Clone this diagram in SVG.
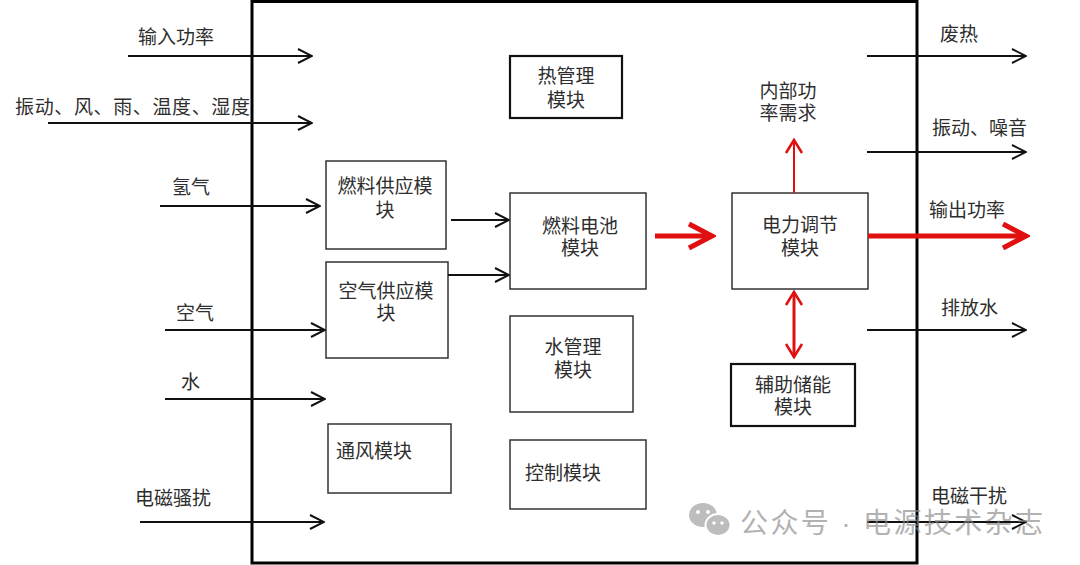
<svg xmlns="http://www.w3.org/2000/svg" width="1080" height="565" viewBox="0 0 1080 565">
<style>
text{font-family:"Liberation Sans","Noto Sans CJK SC",sans-serif;font-size:19px;fill:#2e2e2e}
.box{fill:#fff;stroke:#333;stroke-width:1.5}
.boxb{fill:#fff;stroke:#111;stroke-width:2.2}
.c{text-anchor:middle}
.blk{stroke:#111;stroke-width:2;fill:none}
.red{stroke:#e01010;fill:none}
</style>
<defs>
<marker id="ab" markerUnits="userSpaceOnUse" viewBox="0 0 16 16" markerWidth="16" markerHeight="16" refX="15" refY="8" orient="auto">
<path d="M1,1 L15,8 L1,15" fill="none" stroke="#111" stroke-width="2"/>
</marker>
<marker id="arBig" markerUnits="userSpaceOnUse" viewBox="0 0 30 30" markerWidth="30" markerHeight="30" refX="26" refY="15" orient="auto">
<path d="M3,3 L26,15 L3,27" fill="none" stroke="#e01010" stroke-width="5"/>
</marker>
<marker id="arSm" markerUnits="userSpaceOnUse" viewBox="0 0 20 20" markerWidth="20" markerHeight="20" refX="17" refY="10" orient="auto-start-reverse">
<path d="M4,2 L17,10 L4,18" fill="none" stroke="#e01010" stroke-width="2.5"/>
</marker>
</defs>
<rect width="1080" height="565" fill="#fff"/>
<rect id="frame" x="252" y="1.5" width="665" height="561.5" fill="none" stroke="#000" stroke-width="3"/>

<g id="n-heat"><rect class="boxb" x="510" y="56" width="112" height="62"/><text class="c" x="566" y="83">热管理</text><text class="c" x="566" y="107">模块</text></g>
<g id="n-fuel-supply"><rect class="box" x="326" y="161" width="120" height="88"/><text class="c" x="385" y="193">燃料供应模</text><text class="c" x="385" y="217">块</text></g>
<g id="n-air-supply"><rect class="box" x="326" y="262" width="122" height="96"/><text class="c" x="386" y="298">空气供应模</text><text class="c" x="386" y="320">块</text></g>
<g id="n-fc"><rect class="box" x="510" y="193" width="136" height="96"/><text class="c" x="580" y="233">燃料电池</text><text class="c" x="580" y="255">模块</text></g>
<g id="n-water"><rect class="box" x="510" y="316" width="123" height="96"/><text class="c" x="573" y="354">水管理</text><text class="c" x="573" y="377">模块</text></g>
<g id="n-ctrl"><rect class="box" x="510" y="440" width="136" height="69"/><text x="525" y="480">控制模块</text></g>
<g id="n-vent"><rect class="box" x="328" y="424" width="123" height="69"/><text x="336" y="458">通风模块</text></g>
<g id="n-pcu"><rect class="box" x="732" y="193" width="136" height="96"/><text class="c" x="800" y="232">电力调节</text><text class="c" x="800" y="255">模块</text></g>
<g id="n-aux"><rect class="boxb" x="731" y="364" width="124" height="62"/><text class="c" x="793" y="392">辅助储能</text><text class="c" x="793" y="414">模块</text></g>

<g id="labels">
<text x="138" y="44">输入功率</text>
<text x="15" y="114" textLength="235">振动、风、雨、温度、湿度</text>
<text x="172" y="194">氢气</text>
<text x="176" y="320">空气</text>
<text x="181" y="389">水</text>
<text x="135" y="505">电磁骚扰</text>
<text x="940" y="41">废热</text>
<text class="c" x="788" y="98">内部功</text>
<text class="c" x="788" y="120">率需求</text>
<text x="932" y="135">振动、噪音</text>
<text x="929" y="217">输出功率</text>
<text x="941" y="315">排放水</text>
<text x="931" y="503">电磁干扰</text>
</g>

<g id="connectors">
<line class="blk" x1="128" y1="56" x2="312" y2="56" marker-end="url(#ab)"/>
<line class="blk" x1="48" y1="123" x2="312" y2="123" marker-end="url(#ab)"/>
<line class="blk" x1="160" y1="206" x2="320" y2="206" marker-end="url(#ab)"/>
<line class="blk" x1="165" y1="330" x2="325" y2="330" marker-end="url(#ab)"/>
<line class="blk" x1="165" y1="399" x2="325" y2="399" marker-end="url(#ab)"/>
<line class="blk" x1="140" y1="522" x2="324" y2="522" marker-end="url(#ab)"/>
<line class="blk" x1="451" y1="220" x2="509" y2="220" marker-end="url(#ab)"/>
<line class="blk" x1="448" y1="275" x2="509" y2="275" marker-end="url(#ab)"/>
<line class="blk" x1="867" y1="56" x2="1026" y2="56" marker-end="url(#ab)"/>
<line class="blk" x1="867" y1="152" x2="1026" y2="152" marker-end="url(#ab)"/>
<line class="blk" x1="867" y1="330" x2="1026" y2="330" marker-end="url(#ab)"/>
<line class="blk" x1="867" y1="522" x2="1026" y2="522" marker-end="url(#ab)"/>
<line class="red" stroke-width="5" x1="655" y1="236" x2="712" y2="236" marker-end="url(#arBig)"/>
<line class="red" stroke-width="5" x1="868" y1="236" x2="1026" y2="236" marker-end="url(#arBig)"/>
<line class="red" stroke-width="2" x1="794" y1="193" x2="794" y2="140" marker-end="url(#arSm)"/>
<line class="red" stroke-width="3" x1="794" y1="292" x2="794" y2="357" marker-start="url(#arSm)" marker-end="url(#arSm)"/>
</g>

<g id="watermark" opacity="0.65">
<ellipse cx="703" cy="515" rx="14" ry="12" fill="#9a9a9a"/>
<ellipse cx="718" cy="525" rx="12.5" ry="11" fill="#9a9a9a" stroke="#fff" stroke-width="2"/>
<circle cx="698" cy="512" r="2" fill="#fff"/><circle cx="708" cy="512" r="2" fill="#fff"/>
<circle cx="714" cy="523" r="1.8" fill="#fff"/><circle cx="722" cy="523" r="1.8" fill="#fff"/>
<text x="740" y="533" textLength="303" style="font-size:28px;fill:#8a8a8a">公众号 · 电源技术杂志</text>
</g>
</svg>
